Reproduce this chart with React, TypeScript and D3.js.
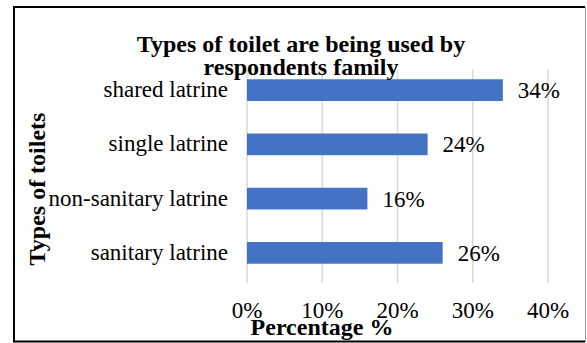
import React from "react";
import * as d3 from "d3";

const categories = ["shared latrine", "single latrine", "non-sanitary latrine", "sanitary latrine"];
const values = [0.34, 0.24, 0.16, 0.26];
const ticks = [0, 0.1, 0.2, 0.3, 0.4];
const titleLines = ["Types of toilet are being used by", "respondents family"];
const xTitle = "Percentage %";
const yTitle = "Types of toilets";

const W = 587;
const H = 343;
const FONT = "'Liberation Serif', 'Times New Roman', serif";

export default function App() {
  const x = d3.scaleLinear().domain([0, 0.4]).range([247, 548]);
  const y = d3.scaleBand<string>().domain(categories).range([63, 280]).paddingInner(0.6).paddingOuter(0.3);
  const fmt = d3.format(".0%");
  return (
    <svg width={W} height={H} style={{ position: "absolute", left: 0, top: 0, background: "#fff" }} fontFamily={FONT}>
      <rect x={0} y={0} width={W} height={H} fill="#fff" />
      {/* border */}
      <line x1={14} y1={7} x2={585} y2={7} stroke="#000" strokeWidth={2} />
      <line x1={14} y1={6} x2={14} y2={342} stroke="#000" strokeWidth={2} />
      <line x1={13} y1={341.5} x2={585} y2={341.5} stroke="#000" strokeWidth={2} />
      <line x1={585.5} y1={7} x2={585.5} y2={342} stroke="#999" strokeWidth={1} />
      {/* gridlines */}
      {ticks.map((t) => (
        <line key={t} x1={x(t)} x2={x(t)} y1={70} y2={283} stroke="#d9d9d9" strokeWidth={1.5} />
      ))}
      {/* bars */}
      {categories.map((c, i) => (
        <g key={c}>
          <rect x={x(0)} y={y(c)} width={x(values[i]) - x(0)} height={y.bandwidth()} fill="#4472C4" />
          <text x={x(values[i]) + 15} y={y(c)! + y.bandwidth() / 2} dy="0.35em" fontSize={23} fill="#000">
            {fmt(values[i])}
          </text>
          <text x={228} y={y(c)! + y.bandwidth() / 2} dy="0.3em" fontSize={23} textAnchor="end" fill="#000">
            {c}
          </text>
        </g>
      ))}
      {/* x tick labels */}
      {ticks.map((t) => (
        <text key={t} x={x(t)} y={318} fontSize={23} textAnchor="middle" fill="#000">
          {fmt(t)}
        </text>
      ))}
      {/* title */}
      {titleLines.map((l, i) => (
        <text key={l} x={301} y={52 + i * 23} fontSize={24} fontWeight="bold" textAnchor="middle" fill="#000">
          {l}
        </text>
      ))}
      <text x={322} y={335} fontSize={24} fontWeight="bold" textAnchor="middle" fill="#000">
        {xTitle}
      </text>
      <text transform="translate(45,189) rotate(-90)" fontSize={24} fontWeight="bold" textAnchor="middle" fill="#000">
        {yTitle}
      </text>
    </svg>
  );
}
